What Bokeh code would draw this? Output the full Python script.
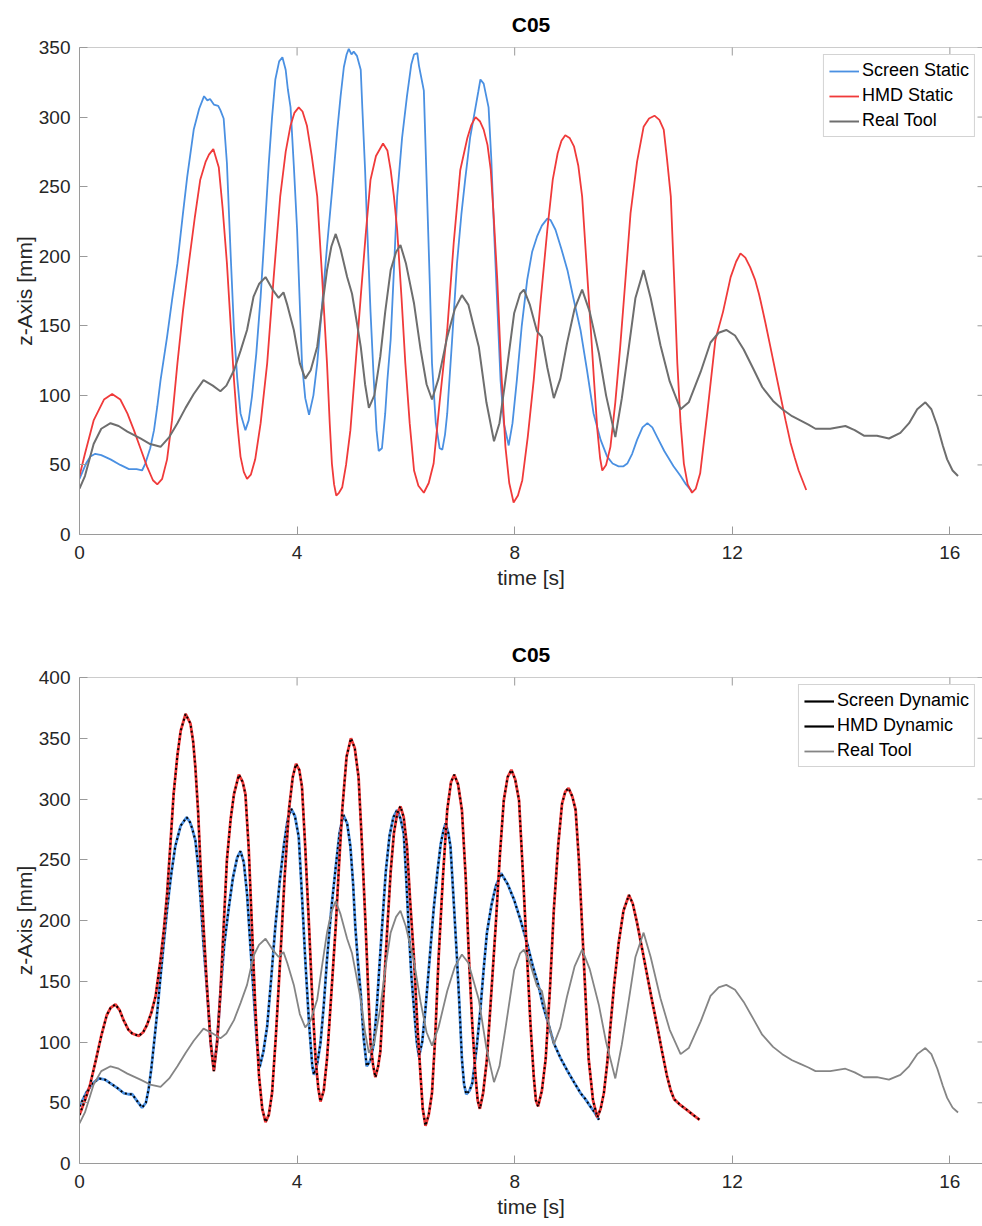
import math
from bokeh.plotting import figure
from bokeh.layouts import column
from bokeh.models import FixedTicker, Legend, LegendItem, Range1d, Span
from bokeh.embed import file_html
from bokeh.resources import INLINE

# ---------------- data ----------------
x_ticks = [0, 4, 8, 12, 16]
y_ticks_top = [0, 50, 100, 150, 200, 250, 300, 350]
y_ticks_bottom = [0, 50, 100, 150, 200, 250, 300, 350, 400]

real_t = [0.00, 0.10, 0.26, 0.40, 0.57, 0.72, 0.88, 1.12, 1.30, 1.49, 1.65, 1.80, 1.95, 2.10, 2.28, 2.45,
          2.59, 2.70, 2.84, 2.96, 3.08, 3.20, 3.30, 3.42, 3.55, 3.66, 3.75, 3.82, 3.94, 4.05, 4.15, 4.25,
          4.37, 4.45, 4.55, 4.63, 4.71, 4.80, 4.92, 5.01, 5.10, 5.17, 5.25, 5.32, 5.42, 5.53, 5.62, 5.72,
          5.82, 5.90, 6.00, 6.15, 6.27, 6.38, 6.48, 6.60, 6.76, 6.90, 7.03, 7.15, 7.34, 7.48, 7.62, 7.72,
          7.83, 7.99, 8.10, 8.17, 8.28, 8.41, 8.50, 8.60, 8.72, 8.84, 8.96, 9.10, 9.24, 9.38, 9.55, 9.68,
          9.85, 9.97, 10.10, 10.22, 10.37, 10.50, 10.68, 10.85, 11.05, 11.20, 11.42, 11.60, 11.75, 11.89,
          12.05, 12.21, 12.40, 12.55, 12.75, 12.92, 13.10, 13.25, 13.40, 13.53, 13.80, 14.08, 14.25, 14.42,
          14.66, 14.88, 15.09, 15.25, 15.40, 15.55, 15.66, 15.77, 15.87, 15.95, 16.05, 16.15]
real_z = [33, 42, 65, 76, 80, 78, 74, 69, 65, 63, 70, 80, 91, 101, 111, 107,
          103, 107, 118, 132, 147, 171, 180, 185, 176, 170, 174, 165, 147, 123, 112, 118,
          135, 160, 190, 207, 216, 205, 185, 173, 152, 135, 108, 91, 100, 128, 160, 190,
          203, 208, 195, 166, 133, 108, 97, 112, 142, 162, 172, 165, 135, 95, 67, 80,
          111, 159, 173, 176, 165, 146, 142, 120, 98, 112, 137, 162, 176, 160, 130, 100,
          70, 98, 135, 170, 190, 170, 136, 110, 90, 95, 117, 138, 145, 147,
          143, 133, 118, 106, 96, 90, 85, 82, 79, 76, 76, 78, 75, 71,
          71, 69, 73, 80, 90, 95, 90, 78, 64, 54, 46, 42]

screen_static_t = [0.00, 0.12, 0.20, 0.29, 0.40, 0.57, 0.75, 0.91, 1.05, 1.15, 1.21, 1.30, 1.37, 1.43, 1.49,
                   1.61, 1.70, 1.80, 1.90, 1.98, 2.10, 2.20, 2.29, 2.35, 2.40, 2.47, 2.55, 2.59, 2.65, 2.71,
                   2.78, 2.84, 2.90, 2.96, 3.05, 3.11, 3.17, 3.25, 3.33, 3.40, 3.48, 3.54, 3.60, 3.67, 3.73,
                   3.79, 3.83, 3.88, 3.94, 4.00, 4.09, 4.15, 4.22, 4.30, 4.37, 4.46, 4.55, 4.65, 4.74, 4.80,
                   4.86, 4.91, 4.95, 5.00, 5.04, 5.10, 5.17, 5.20, 5.25, 5.29, 5.35, 5.41, 5.46, 5.50, 5.56,
                   5.62, 5.66, 5.72, 5.78, 5.84, 5.93, 6.02, 6.10, 6.15, 6.21, 6.24, 6.30, 6.33, 6.39, 6.44,
                   6.48, 6.55, 6.62, 6.67, 6.72, 6.76, 6.85, 6.94, 7.02, 7.09, 7.18, 7.28, 7.33, 7.37, 7.43,
                   7.52, 7.57, 7.62, 7.68, 7.74, 7.80, 7.89, 7.96, 8.04, 8.13, 8.23, 8.32, 8.41, 8.50, 8.60,
                   8.66, 8.75, 8.86, 8.97, 9.09, 9.21, 9.33, 9.45, 9.58, 9.70, 9.80, 9.91, 10.00, 10.07, 10.16,
                   10.25, 10.35, 10.44, 10.53, 10.62, 10.75, 10.92, 11.05, 11.15, 11.26]
screen_static_z = [40, 51, 56, 58, 57, 54, 50, 47, 47, 46, 51, 62, 75, 92, 111,
                   142, 168, 195, 230, 257, 291, 306, 315, 312, 313, 309, 308, 305, 299, 267,
                   200, 147, 112, 87, 75, 82, 99, 130, 171, 215, 267, 300, 327, 340, 343,
                   334, 320, 307, 265, 219, 123, 98, 86, 100, 123, 165, 207, 250, 291, 315,
                   336, 345, 349, 345, 347, 344, 334, 306, 262, 219, 160, 111, 75, 60, 62,
                   87, 111, 140, 190, 243, 285, 315, 338, 345, 346, 337, 325, 319, 243, 180,
                   123, 80, 62, 61, 72, 87, 140, 195, 230, 255, 285, 307, 318, 327, 324,
                   307, 270, 219, 165, 111, 80, 64, 80, 111, 150, 183, 203, 214, 222, 227,
                   226, 219, 205, 190, 168, 147, 118, 87, 68, 56, 51, 49, 49, 51, 58,
                   68, 77, 80, 77, 70, 60, 49, 42, 36, 31]

hmd_static_t = [0.00, 0.10, 0.26, 0.45, 0.60, 0.75, 0.88, 1.00, 1.12, 1.24, 1.35, 1.43, 1.52, 1.61, 1.70,
                1.80, 1.90, 2.01, 2.12, 2.22, 2.32, 2.38, 2.46, 2.56, 2.63, 2.71, 2.78, 2.84, 2.90, 2.96,
                3.02, 3.08, 3.15, 3.23, 3.33, 3.45, 3.57, 3.69, 3.79, 3.88, 3.95, 4.03, 4.10, 4.18, 4.27,
                4.37, 4.46, 4.55, 4.60, 4.64, 4.68, 4.72, 4.77, 4.83, 4.90, 4.98, 5.07, 5.17, 5.26, 5.35,
                5.45, 5.58, 5.66, 5.72, 5.78, 5.84, 5.92, 5.99, 6.07, 6.15, 6.23, 6.33, 6.42, 6.51, 6.62,
                6.76, 6.88, 7.00, 7.13, 7.20, 7.28, 7.36, 7.43, 7.50, 7.56, 7.62, 7.68, 7.75, 7.83, 7.90,
                7.98, 8.06, 8.14, 8.24, 8.35, 8.47, 8.60, 8.70, 8.79, 8.86, 8.93, 9.01, 9.09, 9.17, 9.24,
                9.32, 9.40, 9.46, 9.52, 9.57, 9.61, 9.68, 9.76, 9.85, 9.94, 10.03, 10.13, 10.25, 10.37, 10.47,
                10.57, 10.66, 10.74, 10.80, 10.87, 10.93, 10.99, 11.05, 11.11, 11.18, 11.26, 11.33, 11.41, 11.54, 11.69,
                11.83, 11.97, 12.07, 12.15, 12.24, 12.33, 12.42, 12.49, 12.52, 12.61, 12.70, 12.80, 12.89, 12.98, 13.07,
                13.15, 13.22, 13.29, 13.36]
hmd_static_z = [42, 58, 82, 97, 101, 97, 87, 75, 62, 49, 39, 36, 40, 54, 82,
                123, 160, 195, 228, 255, 268, 273, 277, 264, 235, 195, 150, 111, 80, 56,
                45, 40, 43, 54, 80, 123, 185, 243, 275, 294, 303, 307, 304, 294, 272,
                243, 185, 123, 80, 51, 36, 28, 30, 34, 50, 75, 120, 171, 215, 255,
                272, 281, 276, 262, 243, 219, 170, 123, 80, 46, 35, 30, 37, 51, 95,
                147, 210, 262, 285, 294, 300, 297, 291, 280, 262, 225, 183, 120, 63, 37,
                23, 28, 39, 70, 111, 165, 219, 255, 274, 283, 287, 285, 279, 265, 243,
                195, 147, 110, 75, 55, 46, 50, 63, 95, 135, 180, 231, 268, 293, 299,
                301, 298, 291, 270, 243, 185, 123, 80, 51, 36, 30, 33, 44, 87, 140,
                160, 185, 196, 202, 199, 192, 183, 173, 168, 152, 135, 116, 99, 82, 66,
                55, 46, 39, 32]

screen_dyn_t = [0.00, 0.12, 0.24, 0.36, 0.47, 0.57, 0.70, 0.81, 0.90, 0.97, 1.05, 1.15, 1.22, 1.27, 1.32,
                1.37, 1.43, 1.49, 1.55, 1.61, 1.68, 1.76, 1.86, 1.97, 2.03, 2.07, 2.13, 2.18, 2.22, 2.28,
                2.35, 2.41, 2.47, 2.53, 2.59, 2.66, 2.74, 2.82, 2.90, 2.96, 3.02, 3.08, 3.14, 3.20, 3.26,
                3.31, 3.38, 3.45, 3.52, 3.60, 3.68, 3.76, 3.83, 3.89, 3.96, 4.03, 4.09, 4.15, 4.22, 4.28,
                4.31, 4.37, 4.43, 4.49, 4.55, 4.63, 4.71, 4.78, 4.85, 4.92, 4.98, 5.03, 5.07, 5.12, 5.17,
                5.22, 5.28, 5.35, 5.41, 5.46, 5.51, 5.57, 5.63, 5.70, 5.77, 5.84, 5.90, 5.96, 6.00, 6.05,
                6.10, 6.15, 6.20, 6.24, 6.30, 6.36, 6.43, 6.51, 6.58, 6.64, 6.69, 6.73, 6.78, 6.82, 6.88,
                6.94, 6.99, 7.03, 7.07, 7.11, 7.17, 7.22, 7.30, 7.37, 7.43, 7.49, 7.57, 7.65, 7.75, 7.87,
                7.99, 8.11, 8.23, 8.33, 8.44, 8.52, 8.60, 8.72, 8.84, 8.96, 9.09, 9.21, 9.30, 9.39, 9.47,
                9.55]
screen_dyn_z = [47, 58, 66, 70, 69, 66, 62, 58, 57, 57, 52, 46, 50, 61, 78,
                99, 125, 154, 182, 209, 236, 261, 278, 285, 281, 276, 266, 245, 222, 180,
                140, 100, 77, 100, 140, 180, 209, 235, 252, 257, 248, 222, 180, 140, 100,
                79, 92, 113, 150, 195, 232, 263, 284, 292, 286, 269, 220, 168, 115, 80,
                73, 82, 99, 130, 168, 210, 244, 272, 287, 280, 261, 230, 195, 165, 140,
                105, 80, 85, 99, 125, 160, 200, 240, 270, 285, 291, 284, 272, 240, 195,
                155, 127, 100, 88, 100, 127, 165, 209, 240, 263, 274, 280, 272, 261, 215,
                168, 125, 86, 65, 57, 60, 66, 95, 127, 160, 190, 212, 228, 239, 230,
                217, 200, 181, 163, 146, 130, 118, 99, 87, 77, 67, 58, 53, 47, 42,
                36]

hmd_dyn_t = [0.00, 0.10, 0.19, 0.30, 0.40, 0.50, 0.57, 0.66, 0.74, 0.81, 0.90, 0.97, 1.09, 1.17, 1.24,
             1.32, 1.40, 1.49, 1.55, 1.61, 1.67, 1.73, 1.80, 1.86, 1.95, 2.04, 2.09, 2.13, 2.18, 2.22,
             2.28, 2.35, 2.41, 2.47, 2.53, 2.59, 2.65, 2.71, 2.78, 2.84, 2.93, 3.00, 3.05, 3.11, 3.17,
             3.23, 3.30, 3.36, 3.42, 3.48, 3.54, 3.61, 3.69, 3.77, 3.85, 3.92, 3.98, 4.04, 4.09, 4.15,
             4.22, 4.28, 4.34, 4.39, 4.43, 4.49, 4.55, 4.63, 4.71, 4.77, 4.83, 4.91, 4.99, 5.06, 5.13,
             5.19, 5.26, 5.31, 5.35, 5.40, 5.44, 5.49, 5.53, 5.59, 5.66, 5.72, 5.78, 5.84, 5.90, 5.96,
             6.02, 6.08, 6.15, 6.21, 6.27, 6.31, 6.36, 6.42, 6.48, 6.54, 6.60, 6.68, 6.76, 6.83, 6.89,
             6.96, 7.03, 7.10, 7.16, 7.22, 7.28, 7.32, 7.36, 7.42, 7.49, 7.57, 7.65, 7.73, 7.80, 7.87,
             7.94, 8.01, 8.08, 8.15, 8.23, 8.29, 8.35, 8.39, 8.43, 8.50, 8.57, 8.65, 8.72, 8.80, 8.87,
             8.93, 8.99, 9.06, 9.12, 9.18, 9.24, 9.30, 9.36, 9.44, 9.52, 9.58, 9.64, 9.70, 9.76, 9.83,
             9.91, 10.00, 10.10, 10.17, 10.25, 10.35, 10.44, 10.53, 10.62, 10.71, 10.80, 10.87, 10.93, 11.05, 11.17,
             11.28, 11.40]
hmd_dyn_z = [40, 52, 64, 85, 105, 122, 128, 131, 126, 118, 110, 107, 105, 108, 114,
             124, 138, 168, 192, 222, 262, 304, 336, 356, 370, 362, 347, 326, 290, 250,
             195, 140, 100, 76, 100, 140, 195, 250, 284, 304, 320, 314, 304, 260, 195,
             130, 72, 45, 34, 40, 58, 105, 168, 235, 291, 318, 329, 324, 310, 260,
             195, 135, 86, 62, 51, 60, 86, 140, 195, 245, 291, 335, 350, 342, 318,
             265, 195, 140, 99, 80, 71, 80, 92, 140, 195, 240, 272, 288, 294, 285,
             261, 215, 168, 115, 72, 45, 31, 40, 58, 105, 168, 235, 291, 314, 320,
             312, 291, 235, 168, 115, 72, 52, 45, 58, 86, 140, 195, 255, 299, 318,
             324, 316, 299, 240, 168, 115, 72, 52, 47, 60, 86, 145, 209, 262, 296,
             306, 309, 302, 291, 250, 195, 140, 86, 52, 38, 45, 58, 82, 113, 148,
             181, 208, 221, 214, 198, 175, 154, 133, 113, 92, 72, 60, 53, 48, 44,
             40, 36]

# ---------------- styling helpers ----------------
FONT = "Liberation Sans"
AX_COL = "#9a9a9a"
TXT_COL = "#262626"
BLUE = "#4a90e2"
RED = "#f03a3a"
X_MAX = 16.6


def style_axis(ax, ticks):
    ax.ticker = FixedTicker(ticks=ticks)
    ax.axis_line_color = AX_COL
    ax.major_tick_line_color = AX_COL
    ax.minor_tick_line_color = None
    ax.major_tick_in = 8
    ax.major_tick_out = 0
    ax.major_label_text_font = FONT
    ax.major_label_text_font_size = "19px"
    ax.major_label_text_color = TXT_COL
    ax.axis_label_text_font = FONT
    ax.axis_label_text_font_size = "21px"
    ax.axis_label_text_font_style = "normal"
    ax.axis_label_text_color = TXT_COL


def make_fig(height, ymax, yticks, top_border, bottom_border):
    p = figure(width=982, height=height, x_range=Range1d(0, X_MAX), y_range=Range1d(0, ymax),
               output_backend="svg", toolbar_location=None, title="C05",
               min_border_left=79, min_border_right=0,
               min_border_top=top_border, min_border_bottom=bottom_border)
    p.outline_line_color = None
    p.xgrid.visible = False
    p.ygrid.visible = False
    p.background_fill_color = "white"
    p.border_fill_color = "white"
    style_axis(p.xaxis[0], x_ticks)
    style_axis(p.yaxis[0], yticks)
    p.xaxis[0].major_label_standoff = 11
    p.yaxis[0].major_label_standoff = 9
    p.xaxis[0].axis_label_standoff = 4
    p.yaxis[0].axis_label_standoff = 0
    p.xaxis[0].axis_label = "time [s]"
    p.yaxis[0].axis_label = "z-Axis [mm]"
    # box on: top frame line, inward ticks on the top and (cut-off) right edge
    p.add_layout(Span(location=ymax, dimension="width", line_color=AX_COL, line_width=1))
    p.scatter(x=x_ticks, y=[ymax] * len(x_ticks), marker="dash", size=16, angle=math.pi / 2,
              line_color=AX_COL, line_width=1)
    p.scatter(x=[X_MAX] * len(yticks), y=yticks, marker="dash", size=10,
              line_color=AX_COL, line_width=1)
    p.title.text_font = FONT
    p.title.text_font_size = "21px"
    p.title.text_font_style = "bold"
    p.title.text_color = "black"
    p.title.align = "center"
    p.title.vertical_align = "top"
    p.title.standoff = 20
    return p


def style_legend(lg):
    lg.location = "top_right"
    lg.margin = 7
    lg.padding = 5
    lg.spacing = 4
    lg.glyph_width = 30
    lg.glyph_height = 20
    lg.label_height = 20
    lg.label_standoff = 3
    lg.label_text_font = FONT
    lg.label_text_font_size = "18px"
    lg.label_text_color = "black"
    lg.border_line_color = "#a8a8a8"
    lg.border_line_width = 1
    lg.background_fill_color = "white"
    lg.background_fill_alpha = 1.0
    lg.inactive_fill_alpha = 0.0


# ---------------- top chart ----------------
p1 = make_fig(616, 350, y_ticks_top, 47, 82)
r_blue = p1.line(screen_static_t, screen_static_z, line_color=BLUE, line_width=1.8)
r_red = p1.line(hmd_static_t, hmd_static_z, line_color=RED, line_width=1.8)
r_gray = p1.line(real_t, real_z, line_color="#6e6e6e", line_width=2.0)
lg1 = Legend(items=[LegendItem(label="Screen Static", renderers=[r_blue]),
                    LegendItem(label="HMD Static", renderers=[r_red]),
                    LegendItem(label="Real Tool", renderers=[r_gray])])
style_legend(lg1)
p1.add_layout(lg1)

# ---------------- bottom chart ----------------
p2 = make_fig(604, 400, y_ticks_bottom, 61, 56)
p2.line(screen_dyn_t, screen_dyn_z, line_color=BLUE, line_width=2.8)
p2.line(screen_dyn_t, screen_dyn_z, line_color="black", line_width=2.0, line_dash="2 3")
p2.line(hmd_dyn_t, hmd_dyn_z, line_color=RED, line_width=2.8)
p2.line(hmd_dyn_t, hmd_dyn_z, line_color="black", line_width=2.0, line_dash="2 3")
r_gray2 = p2.line(real_t, real_z, line_color="#858585", line_width=1.8)
# legend proxies (solid black lines, as drawn in the original legend); hidden in the plot area
proxy_s = p2.line(screen_dyn_t, screen_dyn_z, line_color="black", line_width=2.2, visible=False)
proxy_h = p2.line(hmd_dyn_t, hmd_dyn_z, line_color="black", line_width=2.2, visible=False)
lg2 = Legend(items=[LegendItem(label="Screen Dynamic", renderers=[proxy_s]),
                    LegendItem(label="HMD Dynamic", renderers=[proxy_h]),
                    LegendItem(label="Real Tool", renderers=[r_gray2])])
style_legend(lg2)
p2.add_layout(lg2)

layout = column(p1, p2, spacing=0)
open("out.html", "w").write(file_html(layout, INLINE))
